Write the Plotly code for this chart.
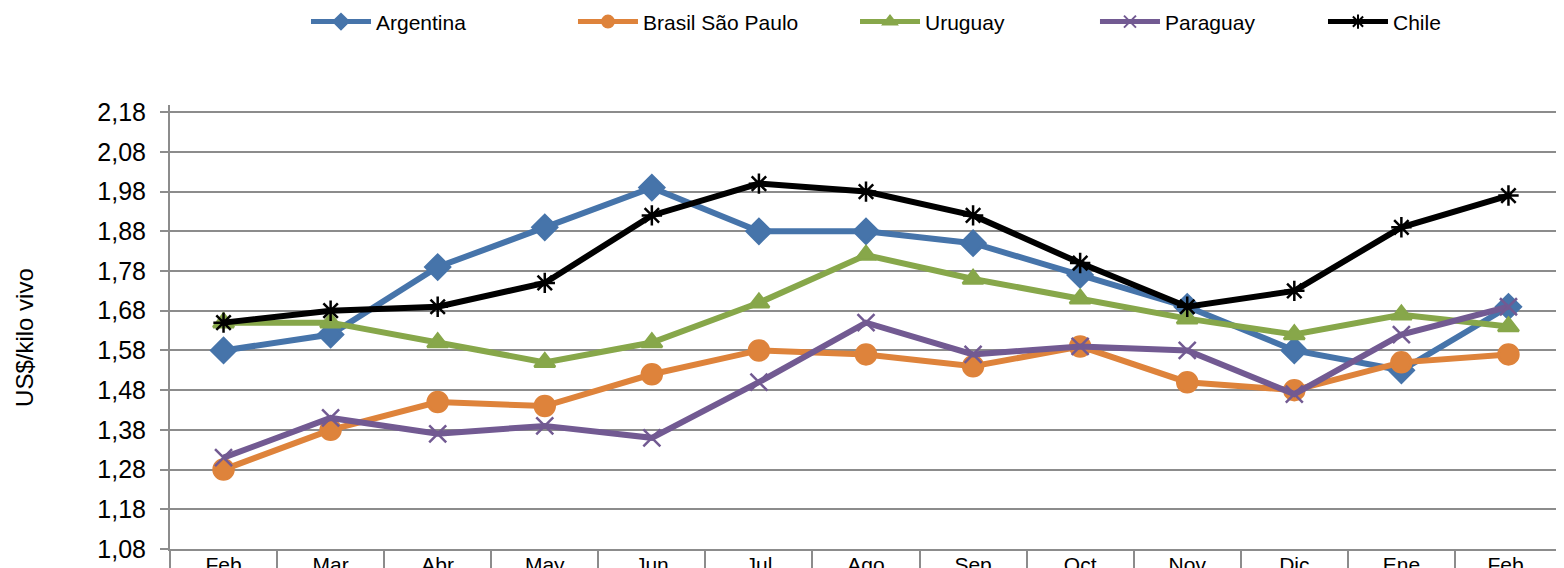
import plotly.graph_objects as go

months = ["Feb", "Mar", "Abr", "May", "Jun", "Jul", "Ago", "Sep", "Oct", "Nov", "Dic", "Ene", "Feb "]
argentina = [1.58, 1.62, 1.79, 1.89, 1.99, 1.88, 1.88, 1.85, 1.77, 1.69, 1.58, 1.53, 1.69]
brasil = [1.28, 1.38, 1.45, 1.44, 1.52, 1.58, 1.57, 1.54, 1.59, 1.50, 1.48, 1.55, 1.57]
uruguay = [1.65, 1.65, 1.60, 1.55, 1.60, 1.70, 1.82, 1.76, 1.71, 1.66, 1.62, 1.67, 1.64]
paraguay = [1.31, 1.41, 1.37, 1.39, 1.36, 1.50, 1.65, 1.57, 1.59, 1.58, 1.47, 1.62, 1.69]
chile = [1.65, 1.68, 1.69, 1.75, 1.92, 2.00, 1.98, 1.92, 1.80, 1.69, 1.73, 1.89, 1.97]
yticks = [1.08, 1.18, 1.28, 1.38, 1.48, 1.58, 1.68, 1.78, 1.88, 1.98, 2.08, 2.18]

series = [
    ("Argentina", argentina, "#4674AA", "diamond", 19, "legend", 0.0977),
    ("Brasil São Paulo", brasil, "#DE833B", "circle", 20, "legend2", 0.2895),
    ("Uruguay", uruguay, "#87A74A", "triangle-up", 18, "legend3", 0.4921),
    ("Paraguay", paraguay, "#725A92", "x-thin-open", 17, "legend4", 0.6645),
    ("Chile", chile, "#000000", "asterisk-open", 17, "legend5", 0.8283),
]

font = "Liberation Sans, Arial, sans-serif"
grid = "#8C8C8C"

fig = go.Figure()
legends = {}
for name, vals, color, sym, size, lg, lx in series:
    fig.add_trace(go.Scatter(
        x=months, y=vals, name=name, mode="lines+markers", legend=lg,
        line=dict(color=color, width=6),
        marker=dict(symbol=sym, size=size, color=color,
                    line=dict(color=color, width=2.5)),
    ))
    legends[lg] = dict(orientation="h", x=lx, xanchor="left",
                       y=1.187, yanchor="middle", yref="paper",
                       font=dict(size=21, family=font), itemwidth=60,
                       itemsizing="constant", bgcolor="rgba(0,0,0,0)")

# invisible trace for the boundary-tick axis
fig.add_trace(go.Scatter(x=months, y=chile, xaxis="x2", mode="lines",
                         line=dict(width=0), opacity=0, showlegend=False,
                         hoverinfo="skip"))

fig.update_layout(
    width=1564, height=568,
    margin=dict(l=162, r=10, t=97, b=27, autoexpand=False),
    paper_bgcolor="white", plot_bgcolor="white",
    separators=",.",
    font=dict(family=font, color="black"),
    showlegend=True,
    xaxis=dict(type="category", categoryarray=months, range=[-0.5, 12.5],
               showgrid=False, ticks="", showline=True, linecolor=grid,
               linewidth=2, tickfont=dict(size=21, family=font),
               ticklabelstandoff=-4, automargin=False),
    xaxis2=dict(type="category", categoryarray=months, range=[-0.5, 12.5],
                overlaying="x", side="bottom", matches="x",
                showgrid=False, showticklabels=False, ticks="outside",
                tickson="boundaries", ticklen=24, tickwidth=2,
                tickcolor=grid, showline=False, automargin=False),
    yaxis=dict(range=[1.08, 2.198], tickvals=yticks,
               ticktext=[f"{v:.2f}".replace(".", ",") for v in yticks],
               showgrid=True, gridcolor=grid, gridwidth=2,
               showline=True, linecolor=grid, linewidth=2,
               ticks="outside", ticklen=8, tickwidth=2, tickcolor=grid,
               tickfont=dict(size=25, family=font), ticklabelstandoff=9,
               zeroline=False, automargin=False),
    annotations=[dict(text="US$/kilo vivo", textangle=-90, showarrow=False,
                      xref="paper", yref="paper", x=-0.1042, y=0.4775,
                      xanchor="center", yanchor="middle",
                      font=dict(size=24, family=font))],
    **legends,
)

fig.write_html("out.html")
